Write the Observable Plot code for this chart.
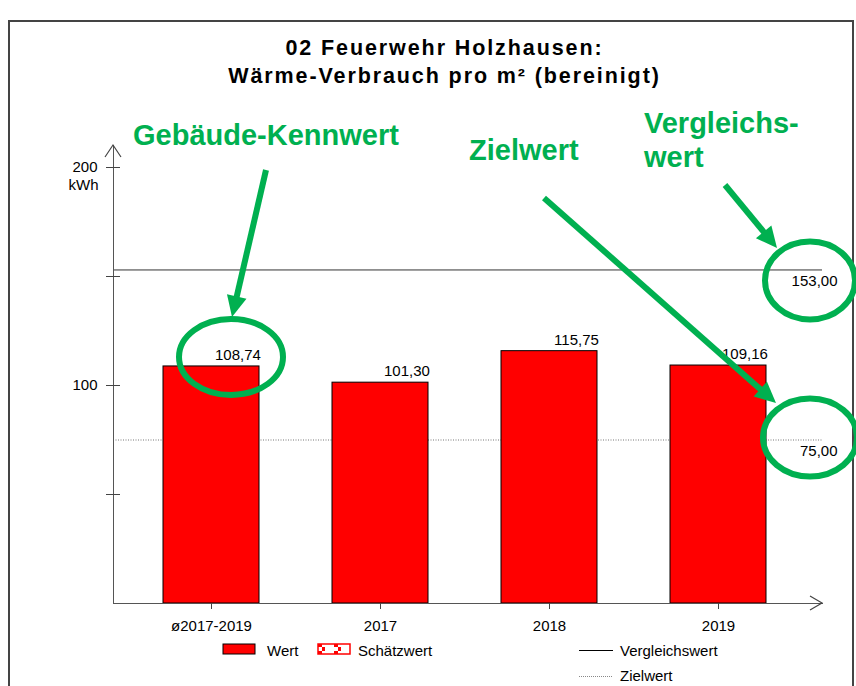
<!DOCTYPE html>
<html lang="de"><head><meta charset="utf-8">
<script src="https://cdn.jsdelivr.net/npm/d3@7"></script>
<script src="https://cdn.jsdelivr.net/npm/@observablehq/plot@0.6"></script>
<style>
html,body{margin:0;padding:0;background:#fff;}
body{font-family:"Liberation Sans",Arial,Helvetica,sans-serif;}
#page{position:relative;width:856px;height:686px;overflow:hidden;background:#fff;}
#border{position:absolute;left:8px;top:20px;width:846px;height:720px;border:2px solid #444;box-sizing:border-box;}
#title{position:absolute;left:0;top:34px;width:889px;text-align:center;font-weight:bold;font-size:21.5px;letter-spacing:1.9px;line-height:28px;color:#000;}
#chart{position:absolute;left:0;top:95px;}
#legend{position:absolute;left:0;top:636px;}
#annot{position:absolute;left:0;top:0;pointer-events:none;}
</style></head><body>
<div id="page">
  <div id="border"></div>
  <div id="title">02 Feuerwehr Holzhausen:<br>Wärme-Verbrauch pro m² (bereinigt)</div>
  <div id="chart"></div>
  <svg id="legend" width="856" height="50"></svg>
  <svg id="annot" width="856" height="686"></svg>
</div>
<script>
// ---- data ----
const categories = ["ø2017-2019", "2017", "2018", "2019"];
const values = [108.74, 101.30, 115.75, 109.16];
const vergleichswert = 153.00;
const zielwert = 75.00;
const yTicks = [50, 100, 150, 200];
const yTickLabels = ["", "100", "", "200"];
const yUnit = "kWh";
const legendBars = ["Wert", "Schätzwert"];
const legendLines = ["Vergleichswert", "Zielwert"];
const annotations = ["Gebäude-Kennwert", "Zielwert", "Vergleichs-", "wert"];

// ---- layout ----
const FONT = '"Liberation Sans",Arial,Helvetica,sans-serif';
const GREEN = "#00b050";
const W = 856, H = 545, mT = 50, mB = 37, mL = 113, mR = 34, TOP = 95;
const fmt = v => v.toFixed(2).replace(".", ",");
const data = categories.map((c, i) => ({cat: c, value: values[i]}));
const xPad = {paddingInner: 0.43, paddingOuter: 0.303, align: 0.476};
const BW = d3.scaleBand().domain(categories).range([mL, W - mR])
  .paddingInner(xPad.paddingInner).paddingOuter(xPad.paddingOuter).align(xPad.align).bandwidth();

const chart = Plot.plot({
  width: W, height: H, marginTop: mT, marginBottom: mB, marginLeft: mL, marginRight: mR,
  style: {fontFamily: FONT, fontSize: "15px", color: "#000", background: "transparent", overflow: "visible"},
  x: {domain: categories, ...xPad, axis: null},
  y: {domain: [0, 200], range: [H - mB, 72], axis: null},
  marks: [
    Plot.ruleY([vergleichswert], {stroke: "#333", strokeWidth: 1}),
    Plot.ruleY([zielwert], {stroke: "#777", strokeWidth: 1, strokeDasharray: "1,1.5"}),
    Plot.barY(data, {x: "cat", y: "value", fill: "#ff0000", stroke: "#000", strokeWidth: 1}),
    Plot.text(data, {x: "cat", y: "value", text: d => fmt(d.value), textAnchor: "end", dx: BW / 2 + 1, dy: -11, fill: "#000"}),
    Plot.text([vergleichswert, zielwert], {y: d => d, text: d => fmt(d), frameAnchor: "right", textAnchor: "end", dx: 15, dy: 11, fill: "#000"}),
    Plot.text([200], {y: d => d, text: () => yUnit, frameAnchor: "left", textAnchor: "end", dx: -15, dy: 18, fill: "#000"}),
    Plot.frame({anchor: "left", stroke: "#555"}),
    Plot.frame({anchor: "bottom", stroke: "#555"}),
    Plot.axisY(yTicks, {tickSize: 14, dx: 7, tickPadding: 9, stroke: "#444", fill: "#000", label: null,
      tickFormat: d => yTickLabels[yTicks.indexOf(d)]}),
    Plot.axisX({tickSize: 6, tickPadding: 11, stroke: "#444", fill: "#000", label: null})
  ]
});
document.getElementById("chart").appendChild(chart);

// ---- axis arrowheads + annotations (overlay, page coords) ----
const xs = chart.scale("x"), ys = chart.scale("y");
const bw = xs.bandwidth;
const X = v => xs.apply(v), Y = v => ys.apply(v) + TOP;
const ann = d3.select("#annot");
const axisG = ann.append("g").attr("fill", "none").attr("stroke", "#444").attr("stroke-width", 1.2);
const ax0 = mL, ay0 = H - mB + TOP, axTop = mT + TOP, axRight = W - mR;
axisG.append("path").attr("d", `M${ax0 - 8},${axTop + 12}L${ax0},${axTop}L${ax0 + 8},${axTop + 12}`);
axisG.append("path").attr("d", `M${axRight - 12},${ay0 - 7}L${axRight},${ay0}L${axRight - 12},${ay0 + 7}`);

const g = ann.append("g");
function arrow(x1, y1, x2, y2) {
  const dx = x2 - x1, dy = y2 - y1, L = Math.hypot(dx, dy), ux = dx / L, uy = dy / L;
  const hl = 21, hw = 10;
  const bx = x2 - ux * hl, by = y2 - uy * hl;
  g.append("line").attr("x1", x1).attr("y1", y1).attr("x2", bx + ux * 2).attr("y2", by + uy * 2)
    .attr("stroke", GREEN).attr("stroke-width", 6);
  g.append("path").attr("d", `M${x2},${y2}L${bx - uy * hw},${by + ux * hw}L${bx + uy * hw},${by - ux * hw}Z`).attr("fill", GREEN);
}
function ellipse(cx, cy, rx, ry) {
  g.append("ellipse").attr("cx", cx).attr("cy", cy).attr("rx", rx).attr("ry", ry)
    .attr("fill", "none").attr("stroke", GREEN).attr("stroke-width", 6);
}
ellipse(X(categories[0]) + bw - 28, Y(values[0]) - 9, 52, 38);
ellipse(810, Y(vergleichswert) + 11, 45, 39);
ellipse(810, Y(zielwert) - 2, 47, 39);
arrow(266, 170, 232, 317);
arrow(544, 198, 776, 403);
arrow(725, 185, 777, 248);
const t = g.append("g").attr("fill", GREEN).attr("font-family", FONT).attr("font-weight", "bold").attr("font-size", 29);
t.append("text").attr("x", 133).attr("y", 145).text(annotations[0]);
t.append("text").attr("x", 469).attr("y", 160).text(annotations[1]);
t.append("text").attr("x", 644).attr("y", 133).text(annotations[2]);
t.append("text").attr("x", 644).attr("y", 167).text(annotations[3]);

// ---- legend ----
const lg = d3.select("#legend").attr("font-family", FONT).attr("font-size", 15);
const defs = lg.append("defs");
const pat = defs.append("pattern").attr("id", "est").attr("patternUnits", "userSpaceOnUse")
  .attr("width", 16).attr("height", 10).attr("x", 318).attr("y", 8);
pat.append("rect").attr("width", 16).attr("height", 10).attr("fill", "#fff");
pat.append("rect").attr("width", 4).attr("height", 3).attr("fill", "#ff0000");
pat.append("rect").attr("y", 7).attr("width", 4).attr("height", 3).attr("fill", "#ff0000");
pat.append("rect").attr("x", 4).attr("y", 3).attr("width", 3).attr("height", 4).attr("fill", "#ff0000");
lg.append("rect").attr("x", 223).attr("y", 8).attr("width", 32).attr("height", 10).attr("fill", "#ff0000").attr("stroke", "#000");
lg.append("text").attr("x", 267).attr("y", 15).attr("dy", "0.35em").text(legendBars[0]);
lg.append("rect").attr("x", 318).attr("y", 8).attr("width", 32).attr("height", 10).attr("fill", "url(#est)").attr("stroke", "#ff0000").attr("stroke-width", 1.5);
lg.append("text").attr("x", 358).attr("y", 15).attr("dy", "0.35em").text(legendBars[1]);
lg.append("line").attr("x1", 579).attr("x2", 613).attr("y1", 14.5).attr("y2", 14.5).attr("stroke", "#000");
lg.append("text").attr("x", 620).attr("y", 15).attr("dy", "0.35em").text(legendLines[0]);
lg.append("line").attr("x1", 579).attr("x2", 613).attr("y1", 40.5).attr("y2", 40.5).attr("stroke", "#888").attr("stroke-dasharray", "1,1");
lg.append("text").attr("x", 620).attr("y", 40).attr("dy", "0.35em").text(legendLines[1]);
</script>
</body></html>
